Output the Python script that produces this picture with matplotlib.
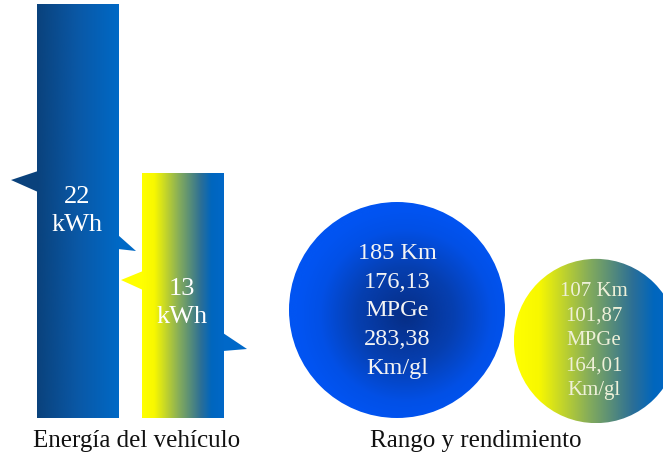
import matplotlib.pyplot as plt
import numpy as np
from matplotlib.patches import Rectangle, Circle, Polygon
from matplotlib.colors import LinearSegmentedColormap

# Energy capacity of the two vehicles (kWh)
energy_kwh = [22, 13]
energy_labels = ["22\nkWh", "13\nkWh"]

# Range (km) and efficiency figures
range_km = [185, 107]
range_labels = ["185 Km\n176,13\nMPGe\n283,38\nKm/gl",
                "107 Km\n101,87\nMPGe\n164,01\nKm/gl"]

group_titles = ["Energía del vehículo", "Rango y rendimiento"]

W, H = 663, 456
BASE = 419            # baseline of the bars (pixel rows, top = 0)
PX_PER_KWH = 414 / 22
R_PER_SQRT_KM = 108 / np.sqrt(185)

blue_cm = LinearSegmentedColormap.from_list(
    "blu", ["#0a427c", "#0a58a6", "#0069c6"])
hybrid_cm = LinearSegmentedColormap.from_list(
    "hyb", [(0.0, "#ffff00"), (0.15, "#f8f800"), (0.45, "#86ad5a"),
            (0.72, "#2c6f96"), (0.85, "#0066be"), (1.0, "#0068c8")])
radial_cm = LinearSegmentedColormap.from_list(
    "rad", [(0.0, "#062e86"), (0.45, "#063fb0"), (0.8, "#0250e6"), (1.0, "#0154f2")])

fig = plt.figure(figsize=(W / 100, H / 100), dpi=100)
ax = fig.add_axes([0, 0, 1, 1])
ax.set_xlim(0, W)
ax.set_ylim(H, 0)
ax.axis("off")

serif = "Liberation Serif"
hgrad = np.linspace(0, 1, 256).reshape(1, -1)


def gradient_rect(x0, width, top, cmap):
    rect = Rectangle((x0, top), width, BASE - top, facecolor="none", edgecolor="none")
    ax.add_patch(rect)
    im = ax.imshow(hgrad, cmap=cmap, extent=(x0, x0 + width, BASE, top),
                   aspect="auto", interpolation="bicubic", zorder=2)
    im.set_clip_path(rect)


def spike(base_x, y0, y1, tip, color):
    ax.add_patch(Polygon([(base_x, y0), tip, (base_x, y1)], closed=True,
                         facecolor=color, edgecolor="none", zorder=1))


# bars
bar_x = [37, 142]
bar_w = 82
cmaps = [blue_cm, hybrid_cm]
tops = []
for x0, val, cm in zip(bar_x, energy_kwh, cmaps):
    top = BASE - val * PX_PER_KWH
    tops.append(top)
    gradient_rect(x0, bar_w, top, cm)

# small pointers on the bar sides
spike(bar_x[0] + 1, 172, 193, (11, 181), "#0a427c")
spike(bar_x[0] + bar_w - 1, 236, 250, (136, 252), "#0069c6")
spike(bar_x[1] + 1, 272, 291, (121, 281), "#ffff00")
spike(bar_x[1] + bar_w - 1, 334, 352, (247, 350), "#0068c8")

label_y = [211, 303]
for x0, cy, lab in zip(bar_x, label_y, energy_labels):
    ax.text(x0 + bar_w / 2 - 1, cy, lab, color="white", ha="center", va="center",
            family=serif, fontsize=19, linespacing=1.33, zorder=3)

# circles
centers = [(397, 311), (596, 342)]
radii = [R_PER_SQRT_KM * np.sqrt(v) for v in range_km]

yy, xx = np.mgrid[-1:1:300j, -1:1:300j]
dist = np.clip(np.sqrt((xx - 0.08) ** 2 + (yy - 0.05) ** 2), 0, 1)

(cx, cy), r = centers[0], radii[0]
c0 = Circle((cx, cy), r, facecolor="none", edgecolor="none")
ax.add_patch(c0)
im = ax.imshow(dist, cmap=radial_cm, extent=(cx - r, cx + r, cy + r, cy - r),
               interpolation="bicubic", aspect="auto", zorder=2)
im.set_clip_path(c0)

(cx, cy), r = centers[1], radii[1]
c1 = Circle((cx, cy), r, facecolor="none", edgecolor="none")
ax.add_patch(c1)
im = ax.imshow(hgrad, cmap=hybrid_cm, extent=(cx - r, cx + r, cy + r, cy - r),
               interpolation="bicubic", aspect="auto", zorder=2)
im.set_clip_path(c1)

ax.text(centers[0][0], 311, range_labels[0], color="#f4f4f4", ha="center",
        va="center", family=serif, fontsize=17.5, linespacing=1.48, zorder=3)
ax.text(centers[1][0] - 2, 341, range_labels[1], color="#eef0d8", ha="center",
        va="center", family=serif, fontsize=15, linespacing=1.42, zorder=3)

ax.text(137, 441, group_titles[0], ha="center", va="center", family=serif,
        fontsize=18, color="#111111")
ax.text(476, 441, group_titles[1], ha="center", va="center", family=serif,
        fontsize=18, color="#111111")

fig.savefig("out.png", dpi=100)
